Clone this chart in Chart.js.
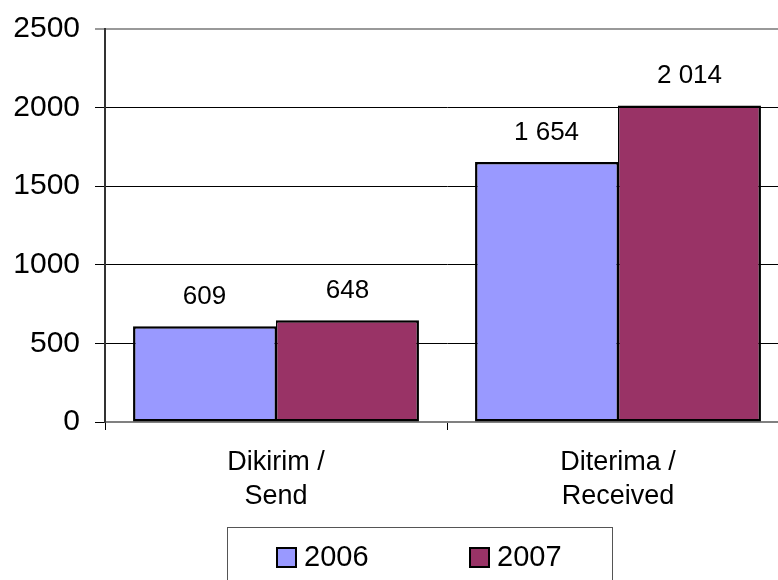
<!DOCTYPE html>
<html>
<head>
<meta charset="utf-8">
<script src="https://cdn.jsdelivr.net/npm/chart.js@4.4.1/dist/chart.umd.min.js"></script>
<style>
  html, body { margin: 0; padding: 0; background: #fff; overflow: hidden; }
  #wrap { width: 800px; height: 580px; }
</style>
</head>
<body>
<div id="wrap"><canvas id="grafico"></canvas></div>
<script>
const CATEGORIAS = [['Dikirim /', 'Send'], ['Diterima /', 'Received']];
const ANOS = ['2006', '2007'];
const VALORES_2006 = [609, 1654];
const VALORES_2007 = [648, 2014];
const CORES = ['#9999ff', '#993366'];
const Y_TICKS = [0, 500, 1000, 1500, 2000, 2500];

const FONTE = '"Liberation Sans", Arial, sans-serif';

function fmt(v) {
  return String(v).replace(/\B(?=(\d{3})+(?!\d))/g, ' ');
}

// valores em cima das barras
const rotulos = {
  id: 'rotulos',
  afterDatasetsDraw(chart) {
    const ctx = chart.ctx;
    ctx.save();
    ctx.font = '26px ' + FONTE;
    ctx.fillStyle = '#000';
    ctx.textAlign = 'center';
    ctx.textBaseline = 'alphabetic';
    chart.data.datasets.forEach((ds, i) => {
      chart.getDatasetMeta(i).data.forEach((bar, j) => {
        ctx.fillText(fmt(ds.data[j]), bar.x, bar.y - 22);
      });
    });
    ctx.restore();
  }
};

// legenda com moldura, estilo Excel
const legenda = {
  id: 'legenda',
  afterDraw(chart) {
    const ctx = chart.ctx;
    ctx.save();
    ctx.strokeStyle = '#555';
    ctx.lineWidth = 1;
    ctx.strokeRect(227.5, 527.5, 385, 80);
    ctx.font = '29px ' + FONTE;
    ctx.textBaseline = 'middle';
    ctx.textAlign = 'left';
    const xs = [276, 469];
    chart.data.datasets.forEach((ds, i) => {
      const x = xs[i];
      ctx.fillStyle = ds.backgroundColor;
      ctx.fillRect(x, 547, 21, 21);
      ctx.lineWidth = 2;
      ctx.strokeStyle = '#000';
      ctx.strokeRect(x + 1, 548, 19, 19);
      ctx.fillStyle = '#000';
      ctx.fillText(ds.label, x + 28, 558);
    });
    ctx.restore();
  }
};

Chart.defaults.font.family = FONTE;
Chart.defaults.color = '#000';

new Chart(document.getElementById('grafico'), {
  type: 'bar',
  data: {
    labels: CATEGORIAS,
    datasets: [
      { label: ANOS[0], data: VALORES_2006, backgroundColor: CORES[0], borderColor: '#000',
        borderWidth: { top: 2.5, left: 2.5, bottom: 2.5, right: 1.5 }, borderSkipped: false, inflateAmount: 0 },
      { label: ANOS[1], data: VALORES_2007, backgroundColor: CORES[1], borderColor: '#000',
        borderWidth: { top: 2.5, left: 1.5, bottom: 2.5, right: 2.5 }, borderSkipped: false, inflateAmount: 0 }
    ]
  },
  options: {
    responsive: true,
    maintainAspectRatio: false,
    animation: false,
    categoryPercentage: 0.836,
    barPercentage: 1,
    layout: { padding: { left: 0, top: 29, right: 11, bottom: 0 } },
    plugins: { legend: { display: false }, tooltip: { enabled: false } },
    scales: {
      x: {
        afterFit: s => { s.height = 158; },
        grid: { drawOnChartArea: false, drawTicks: true, tickLength: 8, color: '#000', lineWidth: 1 },
        border: { color: '#808080', width: 2 },
        ticks: { font: { size: 27, lineHeight: 1.26 }, padding: 16, maxRotation: 0 }
      },
      y: {
        min: Y_TICKS[0],
        max: Y_TICKS[Y_TICKS.length - 1],
        afterFit: s => { s.width = 105; s.paddingTop = 0; s.paddingBottom = 0; },
        ticks: { stepSize: Y_TICKS[1] - Y_TICKS[0], font: { size: 30 }, padding: 15, callback: v => String(v) },
        grid: {
          tickLength: 10,
          color: c => c.tick && c.tick.value === 2500 ? '#999' : '#000',
          lineWidth: c => c.tick && c.tick.value === 2500 ? 2 : 1
        },
        border: { color: '#333', width: 2 }
      }
    }
  },
  plugins: [rotulos, legenda]
});
</script>
</body>
</html>
